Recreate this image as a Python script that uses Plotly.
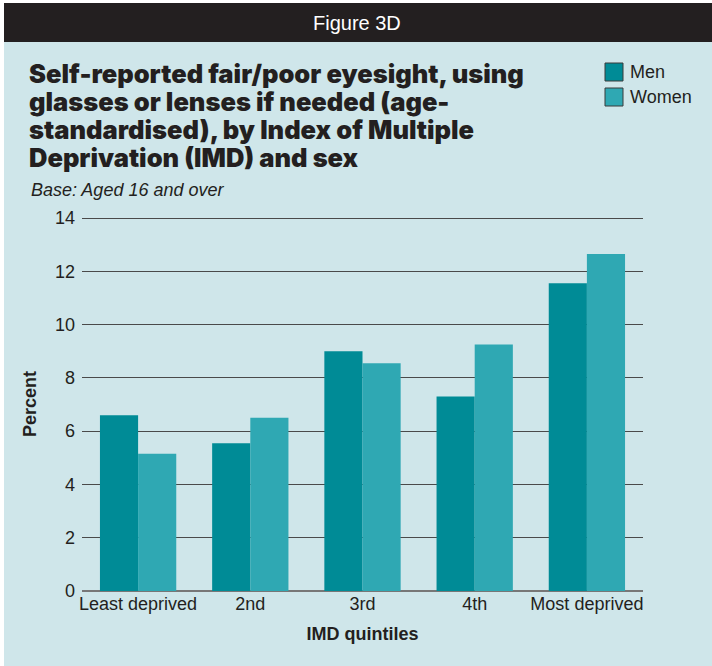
import plotly.graph_objects as go

categories = ["Least deprived", "2nd", "3rd", "4th", "Most deprived"]
men = [6.6, 5.55, 9.0, 7.3, 11.55]
women = [5.15, 6.5, 8.55, 9.25, 12.65]
series_names = ["Men", "Women"]
y_ticks = [0, 2, 4, 6, 8, 10, 12, 14]
title_lines = ["Self-reported fair/poor eyesight, using",
               "glasses or lenses if needed (age-",
               "standardised), by Index of Multiple",
               "Deprivation (IMD) and sex"]

MEN_C = "#008b96"
WOMEN_C = "#2fa8b3"
BG = "#cfe6ea"
TXT = "#231f20"

W, H = 712, 666
L, R, T, B = 82, 643, 217, 591
def px(x):
    return (x - L) / (R - L)
def py(y):
    return (B - y) / (B - T)

fig = go.Figure()
fig.add_trace(go.Bar(x=categories, y=men, name=series_names[0], marker_color=MEN_C, marker_line_width=0))
fig.add_trace(go.Bar(x=categories, y=women, name=series_names[1], marker_color=WOMEN_C, marker_line_width=0))

shapes = [
    dict(type="rect", xref="paper", yref="paper", x0=px(0), x1=px(4), y0=py(0), y1=py(W), fillcolor="white", line_width=0),
    dict(type="rect", xref="paper", yref="paper", x0=px(0), x1=px(W), y0=py(0), y1=py(3), fillcolor="white", line_width=0),
    dict(type="rect", xref="paper", yref="paper", x0=px(4), x1=px(W), y0=py(3), y1=py(42), fillcolor="#231f20", line_width=0),
]
for i, (nm, c) in enumerate(zip(series_names, [MEN_C, WOMEN_C])):
    y0 = 63 + i * 25
    shapes.append(dict(type="rect", xref="paper", yref="paper", x0=px(605), x1=px(623), y0=py(y0), y1=py(y0 + 18),
                       fillcolor=c, line=dict(color="#3a3a3a", width=1)))

annotations = [
    dict(text="Figure 3D", xref="paper", yref="paper", x=px(357), y=py(23), showarrow=False,
         font=dict(family="Liberation Sans, Arial", size=20, color="white"), xanchor="center", yanchor="middle"),
    dict(text="<i>Base: Aged 16 and over</i>", xref="paper", yref="paper", x=px(29), y=py(190), showarrow=False,
         xanchor="left", yanchor="middle", font=dict(family="Liberation Sans, Arial", size=18, color=TXT)),
]
for i, line in enumerate(title_lines):
    annotations.append(dict(text=line, xref="paper", yref="paper", x=px(27), y=py(73 + i * 28), showarrow=False,
                            xanchor="left", yanchor="middle",
                            font=dict(family="Inter", size=25.5, color=TXT, weight=900)))
for i, nm in enumerate(series_names):
    annotations.append(dict(text=nm, xref="paper", yref="paper", x=px(628), y=py(72 + i * 25), showarrow=False,
                            xanchor="left", yanchor="middle",
                            font=dict(family="Liberation Sans, Arial", size=18, color=TXT)))

fig.update_layout(
    width=W, height=H,
    margin=dict(l=L, r=W - R, t=T, b=H - B, pad=0),
    paper_bgcolor=BG, plot_bgcolor=BG,
    barmode="group", bargap=0.32, bargroupgap=0,
    showlegend=False,
    shapes=shapes, annotations=annotations,
    font=dict(family="Liberation Sans, Arial", size=18, color=TXT),
)
fig.update_yaxes(range=[0, 14.04], tickvals=y_ticks, showgrid=True, gridcolor="#4a4a4a", gridwidth=1.3,
                 zeroline=True, zerolinecolor="#777777", zerolinewidth=1.5, ticks="", ticklabelstandoff=6,
                 tickfont=dict(size=18, color=TXT),
                 title=dict(text="<b>Percent</b>", font=dict(size=18, color=TXT), standoff=13))
fig.update_xaxes(showgrid=False, ticks="", tickfont=dict(size=18, color=TXT),
                 title=dict(text="<b>IMD quintiles</b>", font=dict(size=18, color=TXT), standoff=14))

fig.write_html("out.html")
